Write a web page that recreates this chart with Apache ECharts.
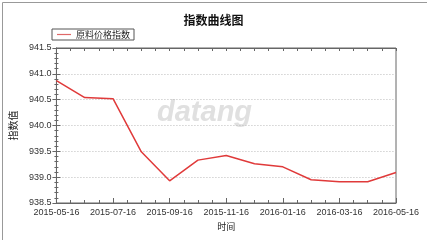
<!DOCTYPE html>
<html><head><meta charset="utf-8">
<script src="https://cdn.jsdelivr.net/npm/echarts@6/dist/echarts.min.js"></script>
<style>html,body{margin:0;padding:0;background:#fff}#c{width:427px;height:240px}</style>
</head><body><div id="c"></div>
<script>
const dates = ['2015-05-16','2015-06-16','2015-07-16','2015-08-16','2015-09-16','2015-10-16','2015-11-16','2015-12-16','2016-01-16','2016-02-16','2016-03-16','2016-04-16','2016-05-16'];
const values = [940.87,940.54,940.52,939.49,938.93,939.33,939.42,939.26,939.20,938.95,938.91,938.91,939.09];
const seriesName = '原料价格指数';
const titleText = '指数曲线图';
const yName = '指数值';
const xName = '时间';

const FONT = '"Liberation Sans", Arial, "Noto Sans CJK SC", sans-serif';
const chart = echarts.init(document.getElementById('c'), null, {renderer:'canvas'});
const axisCol = '#666';
const xBase = {
  type:'value', min:0, max:dates.length-1, interval:2,
  axisLine:{show:true, lineStyle:{color:axisCol, width:1}},
  splitLine:{show:false}
};
const yBase = {
  type:'value', min:938.5, max:941.5, interval:0.5,
  axisLine:{show:true, lineStyle:{color:axisCol, width:1}}
};
chart.setOption({
  animation:false,
  textStyle:{fontFamily:FONT},
  title:{text:titleText, left:'center', top:9, textStyle:{fontSize:12, fontWeight:'bold', color:'#111', fontFamily:'"Noto Sans CJK SC", sans-serif'}},
  legend:{
    left:52, top:29, orient:'horizontal',
    data:[{name:seriesName, icon:'rect', itemStyle:{color:'#e06868', borderWidth:0}}],
    borderColor:'#555', borderWidth:1, padding:[0,4,0,5],
    itemWidth:14, itemHeight:1.2, itemGap:4,
    textStyle:{fontSize:9, color:'#222', fontFamily:'"Noto Sans CJK SC", sans-serif', padding:[1,0,0,0], lineHeight:10}
  },
  grid:{left:52, right:31, top:48, bottom:37, show:true, borderColor:axisCol, borderWidth:1},
  xAxis:[
    Object.assign({}, xBase, {
      position:'bottom', name:xName, nameLocation:'middle', nameGap:19,
      nameTextStyle:{fontSize:9, color:'#222', fontFamily:'"Noto Sans CJK SC", sans-serif'},
      axisTick:{show:true, inside:true, length:5, lineStyle:{color:axisCol}},
      minorTick:{show:true, splitNumber:4, length:3, lineStyle:{color:axisCol}},
      axisLabel:{fontSize:9, color:'#333', margin:5, formatter:v=>dates[Math.round(v)]}
    }),
    Object.assign({}, xBase, {
      position:'top',
      axisTick:{show:true, inside:true, length:3, lineStyle:{color:axisCol}},
      minorTick:{show:true, splitNumber:4, length:3, lineStyle:{color:axisCol}},
      axisLabel:{show:false}
    })
  ],
  yAxis:[
    Object.assign({}, yBase, {
      position:'left', name:yName, nameLocation:'middle', nameGap:36, nameRotate:90,
      nameTextStyle:{fontSize:10, color:'#222', fontFamily:'"Noto Sans CJK SC", sans-serif'},
      axisTick:{show:true, inside:false, length:4, lineStyle:{color:axisCol}},
      minorTick:{show:true, splitNumber:5, length:2, lineStyle:{color:axisCol}},
      axisLabel:{fontSize:9, color:'#333', margin:5, formatter:v=>v.toFixed(1)},
      splitLine:{show:true, lineStyle:{color:'#bbb', type:[1,2], width:1}}
    }),
    Object.assign({}, yBase, {
      position:'left',
      axisTick:{show:true, inside:true, length:4, lineStyle:{color:axisCol}},
      minorTick:{show:true, splitNumber:5, length:2, lineStyle:{color:axisCol}},
      axisLabel:{show:false}, splitLine:{show:false}
    })
  ],
  graphic:[
    {type:'rect', left:0, top:0, shape:{x:0.5, y:0.5, width:426, height:239}, style:{fill:'none', stroke:'#999', lineWidth:1}, z:100},
    {type:'text', left:157, top:98, z:0, style:{text:'datang', fill:'#e0e0e0', font:'italic bold 29px "Liberation Sans", Arial, sans-serif'}}
  ],
  series:[{
    name:seriesName, type:'line', xAxisIndex:0, yAxisIndex:0,
    data: values.map((v,i)=>[i,v]),
    showSymbol:false, symbol:'none',
    lineStyle:{color:'#e03a3a', width:1.5}, itemStyle:{color:'#e03a3a'}, z:5
  }]
});
</script></body></html>
